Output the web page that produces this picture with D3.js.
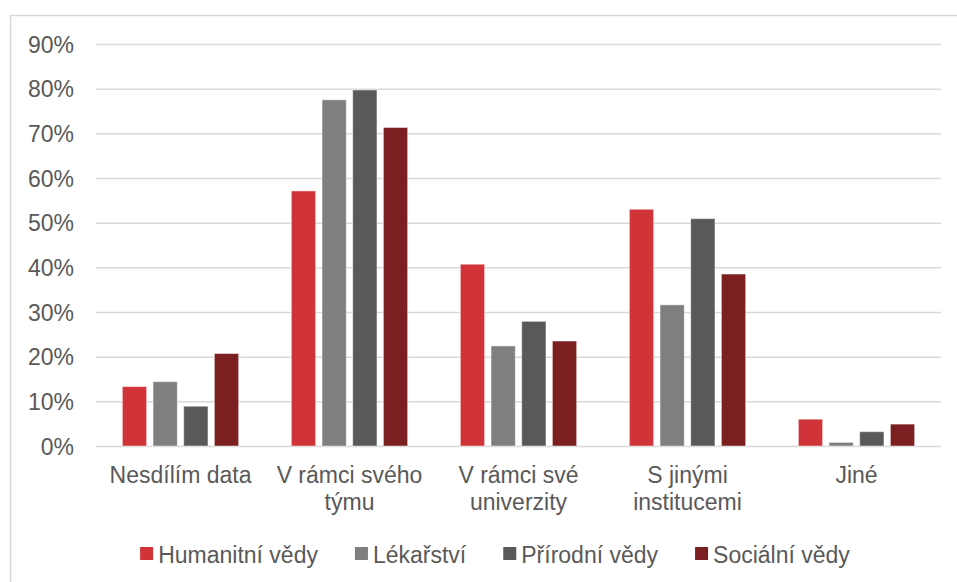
<!DOCTYPE html>
<html>
<head>
<meta charset="utf-8">
<script src="https://cdn.jsdelivr.net/npm/d3@7"></script>
<style>
  html, body { margin: 0; padding: 0; background: #fff; }
  svg { display: block; font-family: "Liberation Sans", Arial, sans-serif; }
</style>
</head>
<body>
<div id="main"></div>
<script>
// categories (label lines) and series, values in %
const categories = ['Nesdílím data', 'V rámci svého týmu', 'V rámci své univerzity', 'S jinými institucemi', 'Jiné']
const categoryLines = [['Nesdílím data'], ['V rámci svého', 'týmu'], ['V rámci své', 'univerzity'], ['S jinými', 'institucemi'], ['Jiné']]
const seriesNames = ['Humanitní vědy', 'Lékařství', 'Přírodní vědy', 'Sociální vědy']
const seriesColors = ['#d13438', '#7f7f7f', '#595959', '#7b1f20']
const humanitni = [13.3, 57.1, 40.7, 53.0, 6.0]
const lekarstvi = [14.4, 77.5, 22.4, 31.6, 0.8]
const prirodni = [8.9, 79.7, 27.9, 50.9, 3.2]
const socialni = [20.7, 71.3, 23.5, 38.5, 4.9]
const yTicks = [0, 10, 20, 30, 40, 50, 60, 70, 80, 90]

const series = [humanitni, lekarstvi, prirodni, socialni]
const W = 957, H = 582
const TEXT = '#595959', GRID = '#d9d9d9'
const FS = 23

const svg = d3.select('#main').append('svg').attr('width', W).attr('height', H)

// chart frame (runs off the right / bottom edge as in the picture)
svg.append('rect').attr('x', 10.5).attr('y', 15.5).attr('width', W + 20).attr('height', H + 20)
  .attr('fill', 'none').attr('stroke', GRID).attr('stroke-width', 1.5)

const x0 = d3.scaleBand().domain(categories).range([96, 941]).paddingInner(0.312).paddingOuter(0.156)
const x1 = d3.scaleBand().domain(seriesNames).range([0, x0.bandwidth()]).paddingInner(0.21)
const y = d3.scaleLinear().domain([0, 90]).range([446, 44])

// y axis + gridlines
const yAxis = svg.append('g').attr('transform', 'translate(96,0)')
  .call(d3.axisLeft(y).tickValues(yTicks).tickFormat(d => d + '%').tickSize(-(941 - 96)).tickPadding(22))
yAxis.select('.domain').remove()
yAxis.selectAll('.tick line').attr('stroke', GRID).attr('stroke-width', 1.5)
yAxis.selectAll('.tick text').attr('fill', TEXT).attr('font-size', FS).attr('font-family', '"Liberation Sans", Arial, sans-serif')
  .attr('x', -22).attr('dy', '0.36em')

// bars
const groups = svg.append('g').selectAll('g').data(categories).join('g')
  .attr('transform', d => 'translate(' + x0(d) + ',0)')
groups.selectAll('rect')
  .data((d, i) => seriesNames.map((s, j) => ({ s: s, v: series[j][i], c: seriesColors[j] })))
  .join('rect')
  .attr('x', d => x1(d.s))
  .attr('y', d => y(d.v))
  .attr('width', x1.bandwidth())
  .attr('height', d => y(0) - y(d.v))
  .attr('fill', d => d.c)
  .attr('stroke', '#fff').attr('stroke-opacity', 0.45).attr('stroke-width', 1)

// category labels
const catG = svg.append('g')
categories.forEach((c, i) => {
  const t = catG.append('text').attr('x', x0(c) + x0.bandwidth() / 2).attr('y', 483)
    .attr('text-anchor', 'middle').attr('fill', TEXT).attr('font-size', FS)
  categoryLines[i].forEach((line, k) => {
    t.append('tspan').attr('x', x0(c) + x0.bandwidth() / 2).attr('y', 483 + k * 27).text(line)
  })
})

// legend, centred
const legend = svg.append('g')
const items = seriesNames.map((s, j) => {
  const g = legend.append('g')
  g.append('rect').attr('x', 0).attr('y', 547).attr('width', 13).attr('height', 13).attr('fill', seriesColors[j])
  const t = g.append('text').attr('x', 18).attr('y', 563).attr('fill', TEXT).attr('font-size', FS).text(s)
  return { g: g, w: 18 + t.node().getComputedTextLength() }
})
const gap = 37
const total = d3.sum(items, d => d.w) + gap * (items.length - 1)
let lx = 495 - total / 2
items.forEach(it => {
  it.g.attr('transform', 'translate(' + lx + ',0)')
  lx += it.w + gap
})
</script>
</body>
</html>
